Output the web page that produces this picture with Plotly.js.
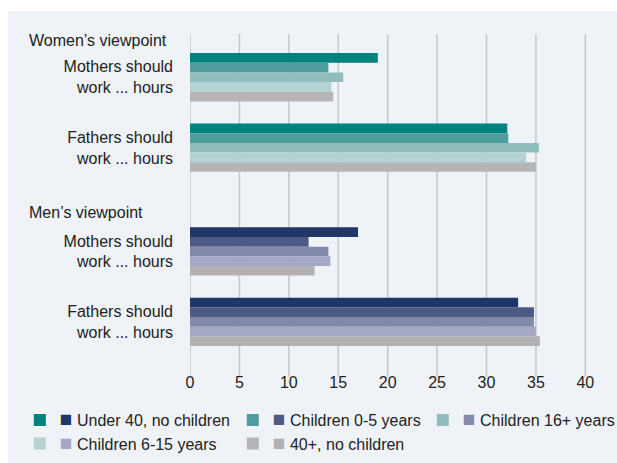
<!DOCTYPE html>
<html><head><meta charset="utf-8">
<script src="https://cdn.plot.ly/plotly-3.0.1.min.js"></script>
<style>html,body{margin:0;padding:0;background:#fff;width:617px;height:463px;overflow:hidden}
#chart{position:absolute;left:8px;top:11px;width:609px;height:452px}</style>
</head><body><div id="chart"></div><script>
const categories = ["Mothers should<br>work ... hours", "Fathers should<br>work ... hours"];
const groupNames = ["Under 40, no children", "Children 0-5 years", "Children 16+ years", "Children 6-15 years", "40+, no children"];
const womenMothers = [19.0, 14.0, 15.5, 14.3, 14.5];
const womenFathers = [32.1, 32.2, 35.3, 34.0, 35.0];
const menMothers = [17.0, 12.0, 14.0, 14.2, 12.6];
const menFathers = [33.2, 34.8, 34.8, 35.0, 35.4];
const womenColors = ["#00837f", "#4f9e9d", "#8fbdbc", "#b4d2d1", "#b5b5b7"];
const menColors = ["#1f3766", "#4e5a85", "#8389a9", "#a5a8c5", "#b1b1b3"];
const xTicks = [0, 5, 10, 15, 20, 25, 30, 35, 40];
const viewpointTitles = ["Women’s viewpoint", "Men’s viewpoint"];
// legend layout: which legend row each group sits in, and the width of its entry
const legendRow = ["legend", "legend", "legend", "legend2", "legend2"];
const legendEntryWidth = [168, 145, 148, 168, 140];

const FONT = "Liberation Sans, Arial, sans-serif";
const TXT = "#222222";
const traces = [];
groupNames.forEach((g, i) => {
  traces.push({
    type: "bar", orientation: "h", name: `<span style="color:${menColors[i]};font-size:21px">■</span> ${g}`,
    y: categories, x: [womenMothers[i], womenFathers[i]],
    marker: {color: womenColors[i]}, xaxis: "x", yaxis: "y",
    legend: legendRow[i], legendwidth: legendEntryWidth[i],
    legendgroup: g, showlegend: true, hoverinfo: "x"
  });
});
groupNames.forEach((g, i) => {
  traces.push({
    type: "bar", orientation: "h", name: g,
    y: categories, x: [menMothers[i], menFathers[i]],
    marker: {color: menColors[i]}, xaxis: "x", yaxis: "y2",
    legendgroup: g, showlegend: false, hoverinfo: "x"
  });
});

const shapes = xTicks.map(v => ({
  type: "line", xref: "x", yref: "paper", x0: v, x1: v, y0: -0.063, y1: 1.025,
  line: {color: "#c5c7cb", width: 1.5}, layer: "below"
}));

const legendBase = {orientation: "h", xanchor: "left", yanchor: "middle", traceorder: "normal",
  font: {family: FONT, size: 16, color: TXT}, bgcolor: "rgba(0,0,0,0)", borderwidth: 0};

const layout = {
  width: 609, height: 452,
  paper_bgcolor: "#eff2f7", plot_bgcolor: "rgba(0,0,0,0)",
  margin: {l: 182, r: 2.4, t: 31, b: 102},
  font: {family: FONT, size: 16, color: TXT},
  barmode: "group", bargap: 0.315, bargroupgap: 0,
  showlegend: true,
  legend: Object.assign({}, legendBase, {x: -0.4004, y: -0.2}),
  legend2: Object.assign({}, legendBase, {x: -0.4004, y: -0.275}),
  xaxis: {range: [0, 43], tickvals: xTicks, ticktext: xTicks.map(String), anchor: "y2",
    showgrid: false, zeroline: false, showline: false, ticks: "", ticklabelstandoff: 14,
    tickfont: {family: FONT, size: 16, color: TXT}, fixedrange: true},
  yaxis: {domain: [0.5525, 1], autorange: "reversed", type: "category", showgrid: false, zeroline: false,
    showline: false, ticks: "", ticklabelstandoff: 16, tickfont: {family: FONT, size: 16, color: TXT}},
  yaxis2: {domain: [0, 0.4467], autorange: "reversed", type: "category", showgrid: false, zeroline: false,
    showline: false, ticks: "", ticklabelstandoff: 16, tickfont: {family: FONT, size: 16, color: TXT}},
  shapes: shapes,
  annotations: [
    {text: viewpointTitles[0], xref: "paper", yref: "paper", x: -0.3839, y: 1.006, xanchor: "left", yanchor: "middle", showarrow: false, font: {family: FONT, size: 16, color: TXT}},
    {text: viewpointTitles[1], xref: "paper", yref: "paper", x: -0.3839, y: 0.4577, xanchor: "left", yanchor: "middle", showarrow: false, font: {family: FONT, size: 16, color: TXT}}
  ]
};
Plotly.newPlot("chart", traces, layout, {displayModeBar: false, staticPlot: true});
</script></body></html>
